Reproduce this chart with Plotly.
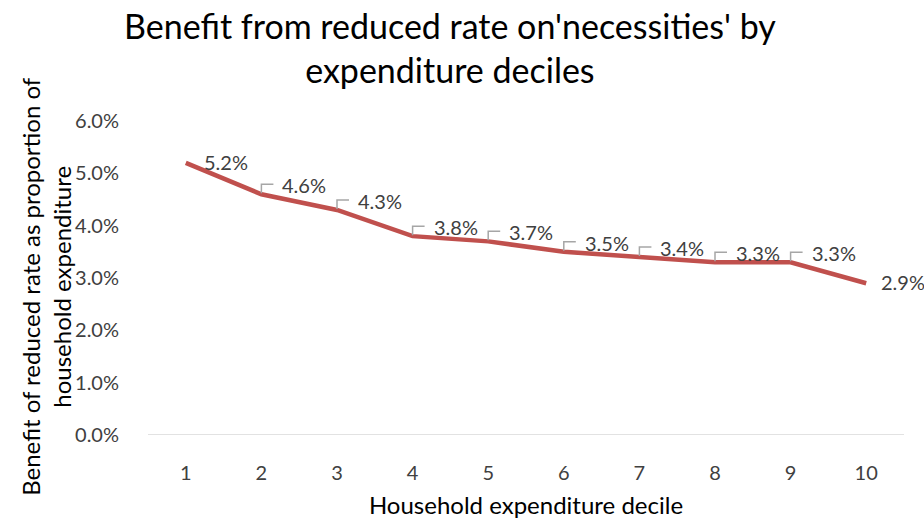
import plotly.graph_objects as go

deciles = [1, 2, 3, 4, 5, 6, 7, 8, 9, 10]
benefit = [5.2, 4.6, 4.3, 3.8, 3.7, 3.5, 3.4, 3.3, 3.3, 2.9]
tick_vals = [0, 1, 2, 3, 4, 5, 6]
tick_text = ["0.0%", "1.0%", "2.0%", "3.0%", "4.0%", "5.0%", "6.0%"]

FONT = "Lato"
fig = go.Figure()
fig.add_trace(go.Scatter(x=deciles, y=benefit, mode="lines",
                         line=dict(color="#C0504D", width=4.5), hoverinfo="skip"))

annotations = []
shapes = []
last = len(deciles) - 1
for i, (d, v) in enumerate(zip(deciles, benefit)):
    leader = 0 < i < last
    annotations.append(dict(x=d, y=v, xref="x", yref="y", text=f"{v:.1f}%",
                            showarrow=False, xanchor="left", yanchor="middle",
                            xshift=19 if leader else (16 if i == 0 else 13),
                            yshift=9 if leader else 1,
                            font=dict(family=FONT, size=20, color="#404040")))
    if leader:
        shapes.append(dict(type="path", xref="x", yref="y", xsizemode="pixel", ysizemode="pixel",
                           xanchor=d, yanchor=v, path="M0,1 L0,10 L12,10",
                           line=dict(color="#A6A6A6", width=1.5)))

annotations.append(dict(text="Benefit from reduced rate on'necessities' by<br>expenditure deciles",
                        xref="paper", yref="paper", x=0.40, y=1.235,
                        xanchor="center", yanchor="middle", showarrow=False,
                        font=dict(family=FONT, size=34, color="#000000")))
annotations.append(dict(text="Benefit of reduced rate as proportion of<br>household expenditure",
                        xref="paper", yref="paper", x=-0.135, y=0.475, textangle=-90,
                        xanchor="center", yanchor="middle", showarrow=False,
                        font=dict(family=FONT, size=24, color="#000000")))

fig.update_layout(
    width=924, height=519,
    margin=dict(l=148, r=20, t=121, b=84),
    paper_bgcolor="white", plot_bgcolor="white",
    showlegend=False,
    xaxis=dict(range=[0.5, 10.5], tickvals=deciles, ticktext=[str(d) for d in deciles],
               showgrid=False, zeroline=False, showline=False, automargin=False,
               ticks="outside", ticklen=20, tickcolor="rgba(0,0,0,0)",
               tickfont=dict(family=FONT, size=20, color="#404040"),
               title=dict(text="Household expenditure decile", standoff=18,
                          font=dict(family=FONT, size=24, color="#000000"))),
    yaxis=dict(range=[0, 6], tickvals=tick_vals, ticktext=tick_text,
               showgrid=False, zeroline=False, showline=False, automargin=False,
               ticks="outside", ticklen=24, tickcolor="rgba(0,0,0,0)",
               tickfont=dict(family=FONT, size=20, color="#404040")),
    annotations=annotations,
    shapes=shapes + [dict(type="line", xref="paper", yref="y", x0=0, x1=1, y0=0, y1=0,
                          line=dict(color="#D9D9D9", width=1.5), layer="below")],
)

fig.write_html("out.html")
